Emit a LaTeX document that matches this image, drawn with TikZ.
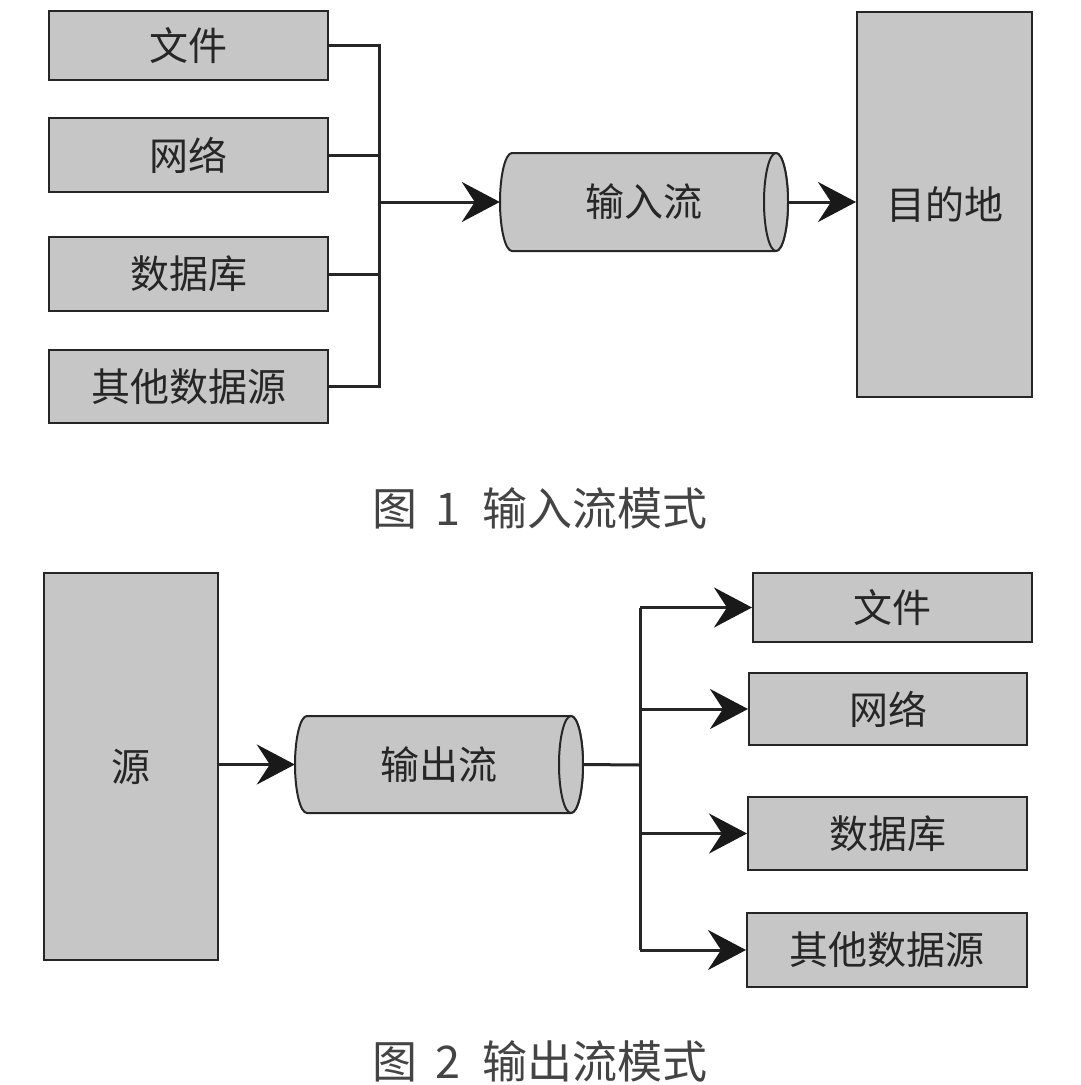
\documentclass[tikz,border=0pt]{standalone}
\usepackage{fontspec}
\setmainfont{Noto Sans CJK SC}
\usetikzlibrary{arrows.meta}
\definecolor{boxfill}{HTML}{C6C6C6}
\definecolor{edge}{HTML}{262626}
\definecolor{captext}{HTML}{444444}
\tikzset{
  box/.style={draw=edge, line width=2pt, fill=boxfill, inner sep=0pt, text=black!85,
    font=\fontsize{39}{44}\selectfont},
  cyltext/.style={inner sep=0pt, text=black!85, font=\fontsize{39}{44}\selectfont},
  cylbody/.style={draw=edge, line width=2pt, fill=boxfill},
  conn/.style={draw=edge, line width=3pt},
  arr/.style={conn, -{Stealth[length=38pt,width=40pt,inset=13pt,color=black!90]}},
  caption/.style={text=captext, font=\fontsize{45}{50}\selectfont, inner sep=0pt}
}
\begin{document}
\begin{tikzpicture}[x=1pt,y=-1pt]
\useasboundingbox[fill=white] (0,0) rectangle (1080,1085);

% ---------- Figure 1 ----------
\node[box, minimum width=279pt, minimum height=69pt] (a1) at (188.5,45.5) {文件};
\node[box, minimum width=279pt, minimum height=74pt] (a2) at (188.5,155) {网络};
\node[box, minimum width=279pt, minimum height=74pt] (a3) at (188.5,274) {数据库};
\node[box, minimum width=279pt, minimum height=73pt] (a4) at (188.5,386.5) {其他数据源};
\node[box, minimum width=175pt, minimum height=385pt] (dest) at (944.5,204.5) {目的地};

% cylinder 1
\path[cylbody] (512,153) arc[start angle=270,end angle=90,x radius=12,y radius=49]
  -- (776,251) arc[start angle=90,end angle=-90,x radius=12,y radius=49] -- cycle;
\draw[cylbody] (776,202) ellipse[x radius=12,y radius=49];
\node[cyltext, minimum width=288pt, minimum height=98pt] (ins) at (644,202) {输入流};

\coordinate (busA) at (379,202);
\draw[conn] (a1.east) -| (busA) |- (a4.east);
\draw[conn] (a2.east) -- (a2.east -| busA);
\draw[conn] (a3.east) -- (a3.east -| busA);
\draw[arr] (busA) -- (ins.west);
\draw[arr] (ins.east) -- (ins.east -| dest.west);

\node[caption] (cap1) at (540,508) {图\hspace{18pt}1\hspace{22pt}输入流模式};

% ---------- Figure 2 ----------
\node[box, minimum width=174pt, minimum height=387pt] (src) at (131,766.5) {源};
\node[box, minimum width=279pt, minimum height=69pt] (b1) at (892.5,607.5) {文件};
\node[box, minimum width=278pt, minimum height=72pt] (b2) at (888,709) {网络};
\node[box, minimum width=279pt, minimum height=73pt] (b3) at (887.5,833.5) {数据库};
\node[box, minimum width=280pt, minimum height=74pt] (b4) at (887,950) {其他数据源};

% cylinder 2
\path[cylbody] (307,716) arc[start angle=270,end angle=90,x radius=12,y radius=48.5]
  -- (571,813) arc[start angle=90,end angle=-90,x radius=12,y radius=48.5] -- cycle;
\draw[cylbody] (571,764.5) ellipse[x radius=12,y radius=48.5];
\node[cyltext, minimum width=288pt, minimum height=97pt] (outs) at (439,764.5) {输出流};

\coordinate (busB) at (640,765);
\draw[arr] (src.east |- outs.west) -- (outs.west);
\draw[conn] (outs.east) -- (busB);
\draw[conn] (b1.west -| busB) -- (b4.west -| busB);
\draw[arr] (b1.west -| busB) -- (b1.west);
\draw[arr] (b2.west -| busB) -- (b2.west);
\draw[arr] (b3.west -| busB) -- (b3.west);
\draw[arr] (b4.west -| busB) -- (b4.west);

\node[caption] (cap2) at (540,1061) {图\hspace{18pt}2\hspace{22pt}输出流模式};
\end{tikzpicture}
\end{document}
